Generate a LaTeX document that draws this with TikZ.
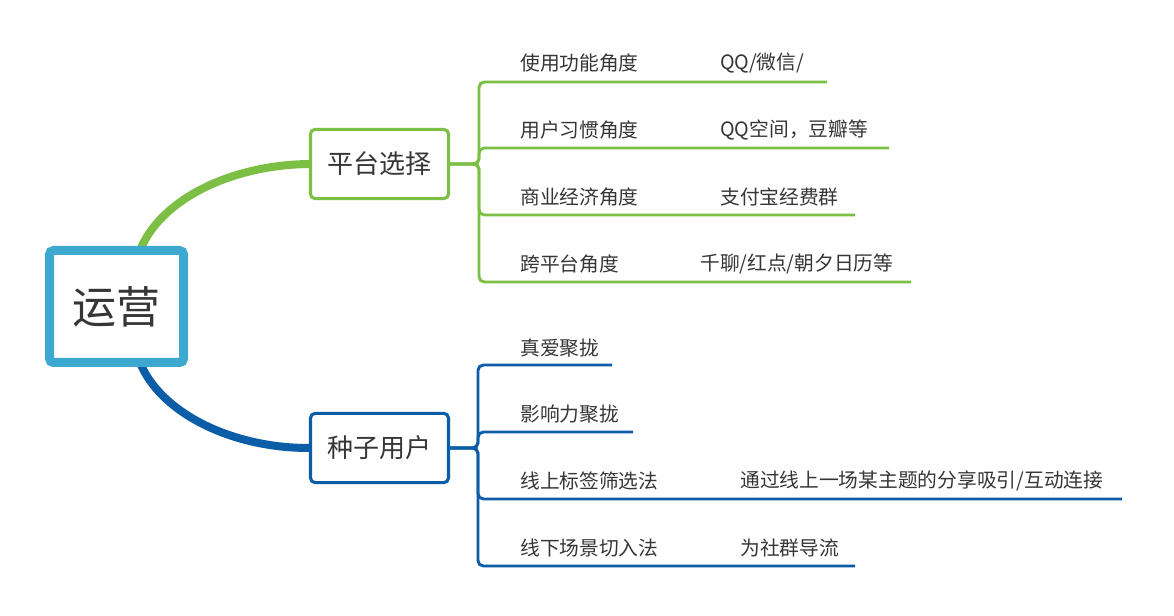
\documentclass[tikz,border=0pt]{standalone}
\usepackage{fontspec}
\usetikzlibrary{backgrounds}
\setmainfont{Noto Sans CJK SC}
\newfontfamily\cjk{Noto Sans CJK SC}
\definecolor{gr}{HTML}{7DBF45}
\definecolor{bl}{HTML}{0B5DA7}
\definecolor{lb}{HTML}{3DA9D1}
\definecolor{tx}{HTML}{363636}
\begin{document}
\begin{tikzpicture}[x=0.75pt,y=-0.75pt,
  rootbox/.style={draw=lb,line width=6.75pt,rounded corners=3pt,fill=white,minimum width=100.5pt,minimum height=84pt,inner sep=0pt,font=\cjk\fontsize{33}{36}\selectfont,text=tx},
  topicbox/.style={line width=2.3pt,rounded corners=3.5pt,fill=white,minimum width=103.5pt,minimum height=52pt,inner sep=0pt,font=\cjk\fontsize{19.5}{22}\selectfont,text=tx},
  lbl/.style={anchor=west,inner sep=0pt,font=\cjk\fontsize{14.8}{17}\selectfont,text=tx},
  gline/.style={draw=gr,line width=2.2pt,rounded corners=4pt},
  bline/.style={draw=bl,line width=2.2pt,rounded corners=4pt}]
\useasboundingbox (0,0) rectangle (1174,616);
% nodes
\node[rootbox] (r) at (116.5,306.5) {运营};
\node[topicbox,draw=gr] (p) at (379.5,164) {平台选择};
\node[topicbox,draw=bl] (s) at (379.5,448) {种子用户};
% background and curves behind the boxes
\begin{scope}[on background layer]
\fill[white] (0,0) rectangle (1174,616);
\draw[gr,line width=6pt] (r.center) ++(23.5,-56) .. controls (160,200) and (230,165) .. (p.west);
\draw[bl,line width=6pt] (r.center) ++(23.5,56) .. controls (160,412) and (230,448) .. (s.west);
\end{scope}
% green labels
\node[lbl] (g1) at (520,63) {使用功能角度};
\node[lbl] (g2) at (520,130) {用户习惯角度};
\node[lbl] (g3) at (520,197) {商业经济角度};
\node[lbl] (g4) at (520,264) {跨平台角度};
\node[lbl] (g1c) at (720,63) {QQ/微信/};
\node[lbl] (g2c) at (720,130) {QQ空间，豆瓣等};
\node[lbl] (g3c) at (720,197) {支付宝经费群};
\node[lbl] (g4c) at (700,264) {千聊/红点/朝夕日历等};
\coordinate (ge1) at (827,82);
\coordinate (ge2) at (889,148);
\coordinate (ge3) at (855,215);
\coordinate (ge4) at (911,282);
\foreach \e in {ge1,ge2,ge3,ge4}
  \draw[gline] (p.east) -- (479,164) |- (\e);
% blue labels
\node[lbl] (b1) at (520,348) {真爱聚拢};
\node[lbl] (b2) at (520,414) {影响力聚拢};
\node[lbl] (b3) at (520,481) {线上标签筛选法};
\node[lbl] (b4) at (520,548) {线下场景切入法};
\node[lbl] (b3c) at (740,481) {通过线上一场某主题的分享吸引/互动连接};
\node[lbl] (b4c) at (740,548) {为社群导流};
\coordinate (be1) at (612,365);
\coordinate (be2) at (633,432);
\coordinate (be3) at (1122,499);
\coordinate (be4) at (855,566);
\foreach \e in {be1,be2,be3,be4}
  \draw[bline] (s.east) -- (478,448) |- (\e);
\end{tikzpicture}
\end{document}
